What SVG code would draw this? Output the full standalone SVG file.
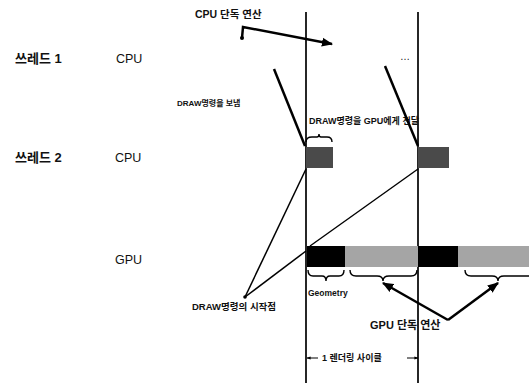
<svg xmlns="http://www.w3.org/2000/svg" width="529" height="383" viewBox="0 0 529 383">
<style>
.lbl{font-family:"Liberation Sans","Noto Sans CJK KR",sans-serif;font-size:12.5px;fill:#111}
.sm{font-family:"Liberation Sans","Noto Sans CJK KR",sans-serif;font-size:8px;font-weight:bold;fill:#111}
.md{font-family:"Liberation Sans","Noto Sans CJK KR",sans-serif;font-size:10px;font-weight:bold;fill:#111}
.ln{stroke:#000;fill:none}
.thick{stroke:#000;stroke-width:2.5;fill:none}
.brace{stroke:#000;stroke-width:1.4;fill:none}
</style>
<defs>
<marker id="ah" viewBox="0 0 10 10" refX="9" refY="5" markerWidth="4.5" markerHeight="4.5" orient="auto"><path d="M0,1 L10,5 L0,9 z" fill="#000"/></marker>
<marker id="sa" viewBox="0 0 10 10" refX="9" refY="5" markerWidth="4" markerHeight="4" orient="auto"><path d="M0,1 L10,5 L0,9 z" fill="#000"/></marker>
</defs>
<rect width="529" height="383" fill="#fff"/>

<g id="timeline">
<line class="ln" x1="306" y1="12" x2="306" y2="383" stroke-width="1.7"/>
<line class="ln" x1="418" y1="12" x2="418" y2="383" stroke-width="1.7"/>
</g>

<g id="thread1">
<text class="lbl" x="15" y="63" style="font-size:13px;font-weight:600">쓰레드 1</text>
<text class="lbl" x="116" y="63">CPU</text>
<text class="lbl" x="400" y="60" style="font-size:10px">…</text>
</g>

<g id="thread2">
<text class="lbl" x="15" y="162" style="font-size:13px;font-weight:600">쓰레드 2</text>
<text class="lbl" x="115" y="162">CPU</text>
<rect x="306" y="147" width="27" height="21" fill="#4a4a4a"/>
<rect x="418" y="147" width="31" height="21" fill="#4a4a4a"/>
</g>

<g id="gpu">
<text class="lbl" x="115" y="264">GPU</text>
<rect x="307" y="246" width="38" height="21" fill="#000"/>
<rect x="345" y="246" width="73" height="21" fill="#a5a5a5"/>
<rect x="418" y="246" width="40" height="21" fill="#000"/>
<rect x="458" y="246" width="71" height="21" fill="#a5a5a5"/>
</g>

<g id="labels">
<text class="md" x="195" y="18" style="font-size:10.5px">CPU 단독 연산</text>
<text class="sm" x="177" y="106">DRAW명령을 보냄</text>
<text class="sm" x="309" y="124" style="font-size:9px">DRAW명령을 GPU에게 전달</text>
<text class="sm" x="192" y="310" style="font-size:9.5px">DRAW명령의 시작점</text>
<text class="sm" x="308" y="296" style="font-size:8.5px">Geometry</text>
<text class="md" x="370" y="329" style="font-size:11px">GPU 단독 연산</text>
<text class="sm" x="322" y="361" style="font-size:9px">1 렌더링 사이클</text>
</g>

<g id="connectors">
<path class="thick" d="M242,38 L243,27 L332,44" marker-end="url(#ah)"/>
<circle cx="242" cy="38" r="2"/>
<line class="thick" x1="274" y1="69" x2="305" y2="146"/>
<line class="thick" x1="385" y1="66" x2="418" y2="146"/>
<path class="brace" d="M306,142 Q306,137 312,137 L317,137 Q319,137 319,134 Q319,137 321,137 L327,137 Q332,137 332,142"/>
<line class="ln" x1="245" y1="297" x2="306" y2="169" stroke-width="1.5"/>
<line class="ln" x1="245" y1="297" x2="306" y2="251" stroke-width="1.5"/>
<line class="ln" x1="310" y1="246" x2="418" y2="169" stroke-width="1.4"/>
<circle cx="245" cy="297" r="1.8"/>
<path class="brace" d="M308,270 Q308,276 313,276 L322,276 Q326,276 326,281 Q326,276 330,276 L339,276 Q344,276 344,270"/>
<path class="brace" d="M350,270 Q350,276 356,276 L377,276 Q383,276 383,281 Q383,276 389,276 L411,276 Q417,276 417,270"/>
<path class="brace" d="M465,270 Q465,276 471,276 L492,276 Q498,276 498,281 Q498,276 504,276 L529,276"/>
<line class="thick" x1="448" y1="320" x2="383" y2="283" marker-end="url(#ah)"/>
<line class="thick" x1="448" y1="320" x2="498" y2="283" marker-end="url(#ah)"/>
<line class="ln" x1="318" y1="358" x2="307" y2="358" marker-end="url(#sa)"/>
<line class="ln" x1="407" y1="358" x2="418" y2="358" marker-end="url(#sa)"/>
</g>
</svg>
